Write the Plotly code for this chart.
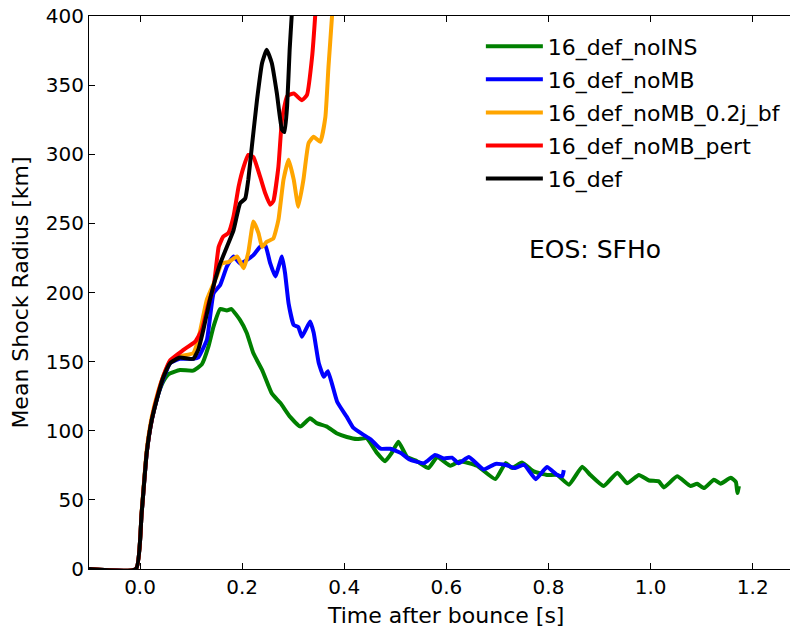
import plotly.graph_objects as go

# ---- data ----
t_noINS = [-0.1, -0.008, 0.003, 0.013, 0.023, 0.036, 0.046, 0.056, 0.078, 0.104, 0.121, 0.134, 0.144, 0.157,
           0.170, 0.179, 0.196, 0.209, 0.222, 0.239, 0.258, 0.275, 0.294, 0.314, 0.333, 0.346, 0.366, 0.386,
           0.405, 0.425, 0.444, 0.464, 0.480, 0.493, 0.506, 0.523, 0.5425, 0.565, 0.582, 0.608, 0.627, 0.660,
           0.696, 0.716, 0.729, 0.748, 0.771, 0.797, 0.817, 0.840, 0.866, 0.882, 0.908, 0.935, 0.954, 0.977,
           0.997, 1.016, 1.026, 1.052, 1.078, 1.091, 1.105, 1.124, 1.137, 1.157, 1.167, 1.170, 1.173]
r_noINS = [0, 0, 40, 84, 108, 127, 136, 141, 144, 143.5, 148, 161, 175.5, 188,
           187, 188, 180, 170.7, 156, 144, 127, 120, 110, 103, 109, 105.5, 103, 98,
           95.5, 94, 94.6, 84, 78, 84, 92, 81, 78, 73, 81, 74.7, 78, 74.7,
           65, 76.6, 73, 77, 70.6, 68, 68, 61, 74, 68, 60, 69.7, 62, 68,
           64, 63.4, 59, 67, 60, 61.6, 58.5, 64.6, 61.7, 66, 63, 55, 60]

t_noMB = [-0.1, -0.008, 0.003, 0.013, 0.023, 0.036, 0.046, 0.059, 0.078, 0.104, 0.114, 0.131, 0.144, 0.157,
          0.170, 0.183, 0.196, 0.209, 0.222, 0.235, 0.245, 0.255, 0.265, 0.278, 0.284, 0.291, 0.301, 0.310,
          0.317, 0.333, 0.340, 0.350, 0.360, 0.368, 0.386, 0.405, 0.418, 0.438, 0.451, 0.471, 0.490, 0.510,
          0.529, 0.556, 0.578, 0.595, 0.611, 0.624, 0.644, 0.673, 0.696, 0.718, 0.735, 0.752, 0.775, 0.797,
          0.817, 0.827, 0.830]
r_noMB = [0, 0, 40, 84, 108, 127, 138, 149, 152, 152, 153, 166, 199.5, 205.5,
          218.7, 226, 221, 223.5, 227, 233, 234.5, 221, 211.6, 226, 214, 192, 176.5, 175,
          168, 179, 171, 149, 139, 143, 121, 110, 102, 97, 94, 87, 87, 84,
          79, 76.5, 82.5, 80, 80.5, 76.5, 81, 72, 76, 75, 73, 75.5, 65, 73.7,
          68, 67, 71.5]

t_bf = [-0.1, -0.008, 0.003, 0.013, 0.023, 0.036, 0.046, 0.059, 0.080, 0.104, 0.114, 0.131, 0.150, 0.160,
        0.173, 0.190, 0.203, 0.212, 0.222, 0.232, 0.239, 0.248, 0.261, 0.271, 0.281, 0.291, 0.301, 0.310,
        0.320, 0.330, 0.340, 0.353, 0.363, 0.369, 0.376, 0.380]
r_bf = [0, 0, 41, 86, 110, 129, 140, 150, 154, 156, 166, 195, 211.5, 221,
        222, 226, 217.6, 229, 251.3, 243, 233, 236.6, 239, 252.5, 281.6, 296, 281.6, 262,
        281.6, 308, 312.7, 309, 327, 363, 400, 430]

t_pert = [-0.1, -0.008, 0.003, 0.013, 0.023, 0.036, 0.046, 0.059, 0.085, 0.108, 0.121, 0.134, 0.144, 0.154,
          0.163, 0.173, 0.183, 0.193, 0.203, 0.212, 0.222, 0.235, 0.245, 0.255, 0.261, 0.271, 0.278, 0.288,
          0.301, 0.317, 0.327, 0.337, 0.343, 0.348]
r_pert = [0, 0, 40, 84, 108, 128, 140, 151, 158.5, 164.5, 173, 192, 204, 233,
          240.5, 243, 255, 276.6, 291, 299.5, 298, 284, 272, 263.5, 266, 291, 325, 342,
          344, 339, 343, 370.6, 400, 430]

t_def = [-0.1, -0.008, 0.003, 0.013, 0.023, 0.036, 0.046, 0.059, 0.078, 0.104, 0.114, 0.124, 0.137, 0.147,
         0.157, 0.170, 0.183, 0.196, 0.206, 0.212, 0.219, 0.229, 0.239, 0.248, 0.258, 0.268, 0.278, 0.283,
         0.288, 0.293, 0.297, 0.302]
r_def = [0, 0, 40, 84, 108, 127, 139, 149, 153, 152, 158.5, 173, 195, 209,
         221, 233, 245, 264.5, 268, 281.6, 305.6, 339, 366, 375.6, 366, 344, 317.6, 316,
         334.5, 375.6, 400, 430]

series = [
    ("16_def_noINS", t_noINS, r_noINS, "#008000"),
    ("16_def_noMB", t_noMB, r_noMB, "#0000ff"),
    ("16_def_noMB_0.2j_bf", t_bf, r_bf, "#ffa500"),
    ("16_def_noMB_pert", t_pert, r_pert, "#ff0000"),
    ("16_def", t_def, r_def, "#000000"),
]

x_ticks = [0.0, 0.2, 0.4, 0.6, 0.8, 1.0, 1.2]
x_ticklabels = ["0.0", "0.2", "0.4", "0.6", "0.8", "1.0", "1.2"]
y_ticks = [0, 50, 100, 150, 200, 250, 300, 350, 400]

FONT = "DejaVu Sans"

fig = go.Figure()
for i, (name, t, r, col) in enumerate(series):
    fig.add_trace(go.Scatter(
        x=t, y=r, name=name, mode="lines", legendgroup=f"g{i}",
        line=dict(color=col, width=4, shape="spline", smoothing=0.4),
        cliponaxis=False,
    ))

# The page body adds an 8px offset; the figure is sized to fill the rest of the window.
fig.update_layout(
    width=790, height=620,
    margin=dict(l=81, r=0, t=8, b=59, autoexpand=False),
    paper_bgcolor="white", plot_bgcolor="white",
    font=dict(family=FONT, size=20, color="black"),
    showlegend=True,
    legend=dict(
        x=0.5527, y=0.983, xanchor="left", yanchor="top",
        font=dict(family=FONT, size=22, color="black"),
        bgcolor="rgba(0,0,0,0)", borderwidth=0,
        traceorder="grouped", tracegroupgap=1.5, itemwidth=57,
    ),
    annotations=[
        dict(
            x=0.758, y=231, xref="x", yref="y", text="EOS: SFHo", showarrow=False,
            xanchor="left", yanchor="middle",
            font=dict(family=FONT, size=25, color="black"),
        ),
        dict(
            x=0.5035, y=-0.0834, xref="paper", yref="paper", text="Time after bounce [s]",
            showarrow=False, xanchor="center", yanchor="middle",
            font=dict(family=FONT, size=22, color="black"),
        ),
    ],
)

fig.update_xaxes(
    range=[-0.1, 1.2887], tickvals=x_ticks, ticktext=x_ticklabels, automargin=False,
    showgrid=False, zeroline=False, showline=True, linecolor="black", linewidth=1,
    mirror="ticks", ticks="inside", ticklen=6, tickcolor="black", ticklabeloverflow="allow",
    tickfont=dict(family=FONT, size=20),
)
fig.update_yaxes(
    range=[0, 400], tickvals=y_ticks, automargin=False,
    showgrid=False, zeroline=False, showline=True, linecolor="black", linewidth=1,
    ticks="inside", ticklen=6, tickcolor="black", ticklabeloverflow="allow",
    title=dict(text="Mean Shock Radius [km]", font=dict(family=FONT, size=22), standoff=11),
    tickfont=dict(family=FONT, size=20),
)

fig.write_html("out.html")
